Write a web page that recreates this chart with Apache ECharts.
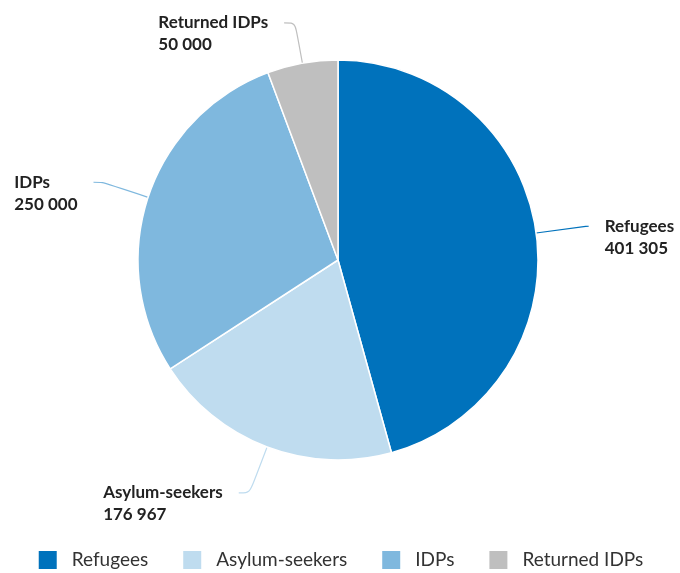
<!DOCTYPE html>
<html><head><meta charset="utf-8">
<script src="https://cdn.jsdelivr.net/npm/echarts@6/dist/echarts.min.js"></script>
<style>html,body{margin:0;padding:0;background:#fff}#c{width:680px;height:573px}</style>
</head><body><div id="c"></div>
<script>
const categories = ['Refugees', 'Asylum-seekers', 'IDPs', 'Returned IDPs'];
const values = [401305, 176967, 250000, 50000];
const colors = ['#0072BC', '#BFDCEF', '#7FB8DE', '#BFBFBF'];
const lineLen = [50, 49, 48, 41];
const lineLen2 = [3, 11, 9, 11];

function fmt(v) { return String(v).replace(/\B(?=(\d{3})+(?!\d))/g, ' '); }

const chart = echarts.init(document.getElementById('c'));
chart.setOption({
  animation: false,
  color: colors,
  legend: {
    top: 544, left: 'center', itemWidth: 20, itemHeight: 20, itemGap: 33,
    icon: 'rect',
    textStyle: { fontFamily: 'Lato', fontSize: 19, color: '#333', padding: [0, 0, 0, 9] },
    data: categories
  },
  series: [{
    type: 'pie',
    center: [338, 260],
    radius: [0, 200],
    startAngle: 90,
    clockwise: true,
    itemStyle: { borderColor: '#fff', borderWidth: 1.5 },
    label: {
      show: true,
      position: 'outside',
      distanceToLabelLine: 16,
      edgeDistance: 0,
      overflow: 'none',
      padding: [22, 0, 0, 0],
      formatter: p => '{a|' + p.name + '}\n{a|' + fmt(p.value) + '}',
      rich: { a: { fontFamily: 'Lato', fontWeight: 'bold', fontSize: 17, lineHeight: 22, color: '#222', align: 'left' } }
    },
    labelLine: { smooth: 0.3, lineStyle: { width: 1.2 } },
    emphasis: { disabled: true },
    data: categories.map((c, i) => ({
      name: c, value: values[i],
      labelLine: { length: lineLen[i], length2: lineLen2[i] }
    }))
  }]
});
</script></body></html>
